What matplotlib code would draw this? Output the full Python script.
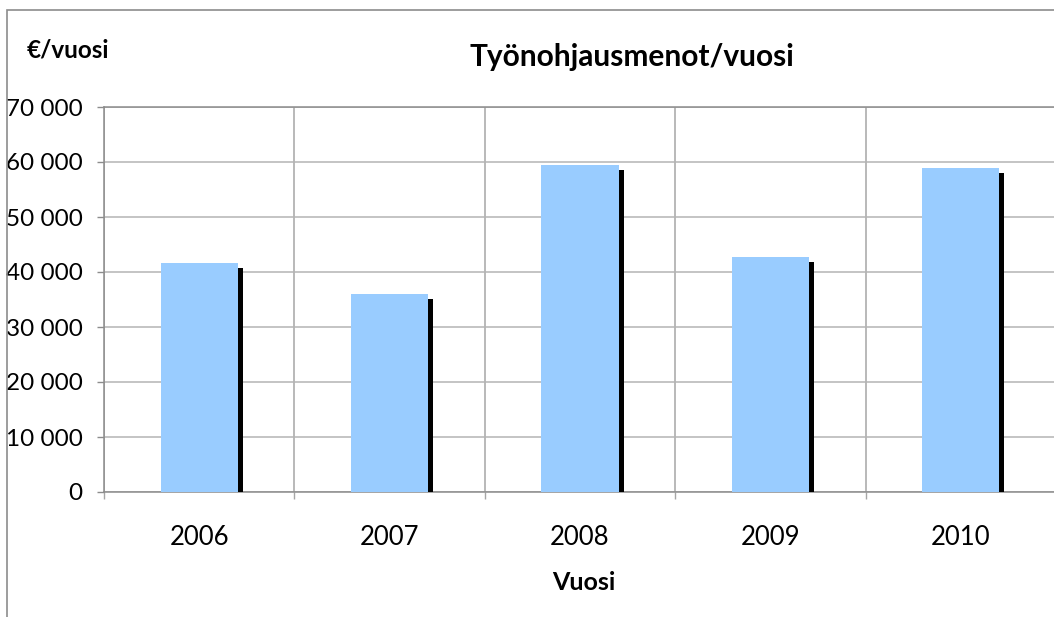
import matplotlib
matplotlib.use("Agg")
import matplotlib.pyplot as plt
import matplotlib.patheffects as pe
from matplotlib.patches import Rectangle
from matplotlib.ticker import FuncFormatter

years = ["2006", "2007", "2008", "2009", "2010"]
costs = [41600, 36000, 59500, 42700, 58900]
y_ticks = [0, 10000, 20000, 30000, 40000, 50000, 60000, 70000]

plt.rcParams['font.family'] = ['Lato', 'DejaVu Sans']

W, H = 1054, 617
fig = plt.figure(figsize=(W / 100, H / 100), dpi=100)

# outer chart frame (right/bottom edges fall outside the picture)
fig.patches.append(Rectangle((7 / W, -0.1), 1.2, 1 - 10 / H + 0.1,
                             transform=fig.transFigure, fill=False,
                             edgecolor='#8c8c8c', linewidth=1.2))

ax = fig.add_axes([104 / W, 1 - 492 / H, (1056 - 104) / W, (492 - 107) / H])

x = list(range(len(years)))
shadow = [pe.SimplePatchShadow(offset=(3.6, -3.6), shadow_rgbFace='black', alpha=1.0),
          pe.Normal()]
ax.bar(x, costs, width=0.405, color='#99ccff', linewidth=0, zorder=3,
       path_effects=shadow)

ax.set_xlim(-0.5, len(years) - 0.5)
ax.set_ylim(0, 70000)
ax.set_yticks(y_ticks)
ax.yaxis.set_major_formatter(FuncFormatter(lambda v, p: f"{int(v):,}".replace(",", " ")))
ax.set_xticks(x)
ax.set_xticklabels(years)
ax.set_xticks([i - 0.5 for i in range(len(years) + 1)], minor=True)

ax.grid(axis='y', which='major', color='#b4b4b4', linewidth=1.1, zorder=0)
ax.grid(axis='x', which='minor', color='#a6a6a6', linewidth=1.1, zorder=0)
ax.set_axisbelow(True)

ax.tick_params(axis='y', which='major', length=5, width=1, color='#8c8c8c',
               pad=10.5, labelsize=17.5)
ax.tick_params(axis='x', which='major', length=0, pad=24, labelsize=18.5)
ax.tick_params(axis='x', which='minor', length=5, width=1, color='#a6a6a6')

for side in ['left', 'bottom', 'top', 'right']:
    ax.spines[side].set_color('#8c8c8c')
    ax.spines[side].set_linewidth(1.1)

fig.text(632 / W, 1 - 57 / H, "Työnohjausmenot/vuosi", ha='center', va='center',
         fontsize=21.5, fontweight='bold')
fig.text(27 / W, 1 - 50 / H, "€/vuosi", ha='left', va='center',
         fontsize=17.5, fontweight='bold')
fig.text(584 / W, 1 - 583 / H, "Vuosi", ha='center', va='center',
         fontsize=18, fontweight='bold')

fig.savefig("out.png", dpi=100)
